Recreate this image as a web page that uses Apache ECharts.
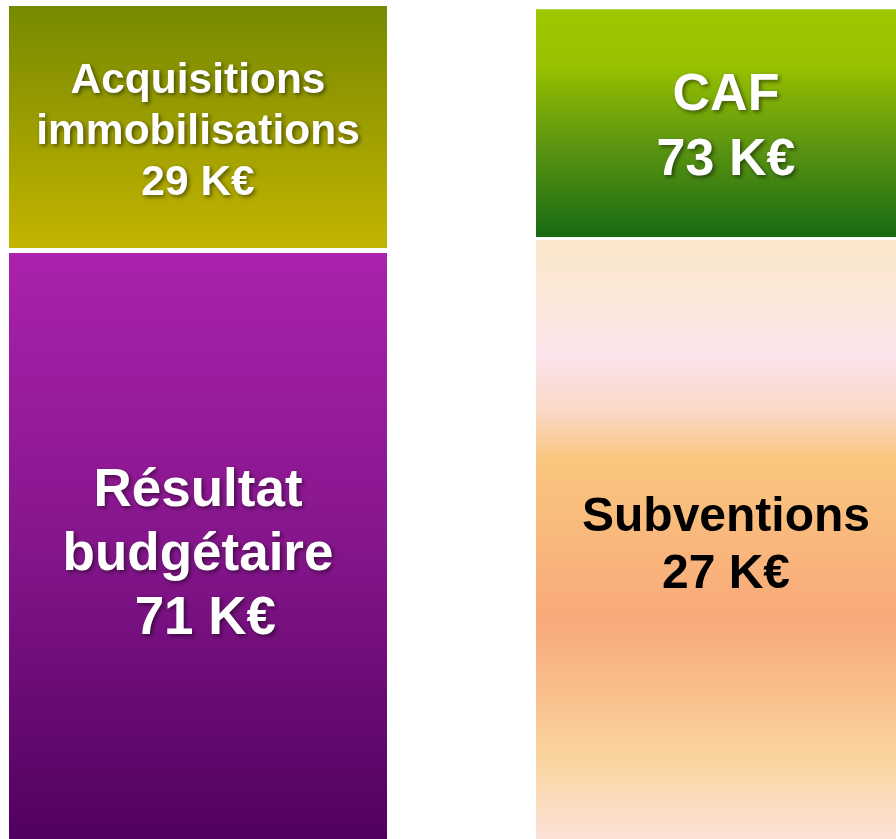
<!DOCTYPE html>
<html>
<head>
<meta charset="utf-8">
<script src="https://cdn.jsdelivr.net/npm/echarts@6/dist/echarts.min.js"></script>
<style>
  html, body { margin: 0; padding: 0; background: #fff; }
  #main { width: 896px; height: 839px; }
</style>
</head>
<body>
<div id="main"></div>
<script>
const columns = ['Emplois', 'Ressources'];
const topNames = ['Acquisitions\nimmobilisations', 'CAF'];
const topAmounts = [29, 73];
const bottomNames = ['Résultat\nbudgétaire', 'Subventions'];
const bottomAmounts = [71, 27];
// hauteur des blocs telle que dessinée (à droite elle ne suit pas les montants affichés)
const topHeights = [29, 27.1];
const bottomHeights = [71, 72.4];

function grad(stops) {
  return new echarts.graphic.LinearGradient(0, 0, 0, 1,
    stops.map(s => ({ offset: s[0], color: s[1] })));
}

const topColors = [
  grad([[0, '#758900'], [0.5, '#9d9e00'], [1, '#c4b500']]),
  grad([[0, '#9fc800'], [0.25, '#98c100'], [0.6, '#5c9511'], [1, '#166913']])
];
const bottomColors = [
  grad([[0, '#ab22ac'], [0.5, '#84158b'], [1, '#4e005d']]),
  grad([[0, '#fbe8cb'], [0.1, '#fbe7d9'], [0.19, '#fce4ec'], [0.28, '#fad8c6'],
        [0.36, '#f9c67e'], [0.47, '#f9ba7c'], [0.62, '#f9a97a'], [0.75, '#f9c28e'],
        [0.84, '#fad49d'], [0.92, '#fbdcc0'], [1, '#fce4e4']])
];

// taille / interligne / couleur / décalage vertical / préfixe du montant, par bloc
const topFont = [[42.5, 51, '#fff', 5, ''], [52, 65, '#fff', 5, '']];
const bottomFont = [[53, 64, '#fff', 3, ' '], [48, 57, '#000', 0, '']];
const borderW = [2.5, 1.5];

function makeData(heights, names, amounts, colors, fonts) {
  return heights.map((h, i) => ({
    value: h,
    itemStyle: { color: colors[i], borderColor: '#fff', borderWidth: borderW[i] },
    label: {
      show: true,
      position: 'inside',
      offset: [0, fonts[i][3]],
      formatter: names[i] + '\n' + fonts[i][4] + amounts[i] + ' K€',
      fontFamily: 'Liberation Sans, Arial, sans-serif',
      fontWeight: 'bold',
      fontSize: fonts[i][0],
      lineHeight: fonts[i][1],
      color: fonts[i][2],
      align: 'center',
      textShadowColor: fonts[i][2] === '#fff' ? 'rgba(0,0,0,0.5)' : 'transparent',
      textShadowBlur: 4,
      textShadowOffsetX: 2,
      textShadowOffsetY: 2
    }
  }));
}

let myChart = echarts.init(document.getElementById('main'));
let option = {
  animation: false,
  grid: { left: -66, right: -94, top: 3.5, bottom: -16, outerBoundsMode: 'none' },
  xAxis: { type: 'category', data: columns, show: false },
  yAxis: { type: 'value', min: 0, max: 100, show: false },
  series: [
    {
      name: 'bas', type: 'bar', stack: 'total', barWidth: 383, clip: false,
      data: makeData(bottomHeights, bottomNames, bottomAmounts, bottomColors, bottomFont)
    },
    {
      name: 'haut', type: 'bar', stack: 'total', barWidth: 383, clip: false,
      data: makeData(topHeights, topNames, topAmounts, topColors, topFont)
    }
  ]
};
myChart.setOption(option);
</script>
</body>
</html>
